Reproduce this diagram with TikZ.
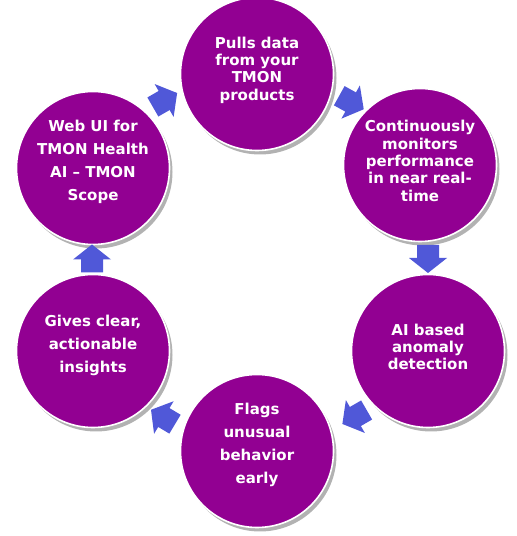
\documentclass[tikz,border=0pt]{standalone}
\usepackage{fontspec}
\setmainfont{DejaVu Sans}
\usepackage{tikz}
\usetikzlibrary{calc,shadows}
\definecolor{ring-purple}{HTML}{920092}
\definecolor{flowblue}{HTML}{5058D8}

\begin{document}
\begin{tikzpicture}[x=1pt, y=1pt,
  bubble/.style={circle, minimum size=153pt, inner sep=0pt, fill=ring-purple, draw=white, line width=1.6pt,
    drop shadow={shadow xshift=3pt, shadow yshift=-4pt, opacity=0.3, fill=black}},
  txt/.style={align=center, text=white, font=\fontsize{15}{17.3}\selectfont\bfseries},
  wide/.style={font=\fontsize{15}{23}\selectfont\bfseries},
  flow/.pic={\fill[flowblue] (-14,-11) -- (-1,-11) -- (-1,-19) -- (14,0) -- (-1,19) -- (-1,11) -- (-14,11) -- cycle;}
]
  \useasboundingbox (0,0) rectangle (517,536);
  \node[bubble] (pulls) at (257,462) {};
  \node[bubble] (monitor) at (420,371) {};
  \node[bubble] (anomaly) at (428,185) {};
  \node[bubble] (flags) at (257,85) {};
  \node[bubble] (insights) at (93,185) {};
  \node[bubble] (web) at (93,368) {};
  % texts
  \node[txt] (pullst) at ([yshift=4pt]pulls) {Pulls data\\from your\\TMON\\products};
  \node[txt] (monitort) at ([yshift=4pt]monitor) {Continuously\\monitors\\performance\\in near real-\\time};
  \node[txt] (anomalyt) at ([yshift=4pt]anomaly) {AI based\\anomaly\\detection};
  \node[txt, wide] (flagst) at ([yshift=6pt]flags) {Flags\\unusual\\behavior\\early};
  \node[txt, wide] (insightst) at ([yshift=6pt]insights) {Gives clear,\\actionable\\insights};
  \node[txt, wide] (webt) at ([yshift=6pt]web) {Web UI for\\TMON Health\\AI -- TMON\\Scope};
  % arrows
  \pic[rotate=30] at ($(web)!0.5!(pulls)+(-10,21)$) {flow};
  \pic[rotate=-29] at ($(pulls)!0.5!(monitor)+(13,17)$) {flow};
  \pic[rotate=-90] at ($(monitor)!0.5!(anomaly)+(4,-1)$) {flow};
  \pic[rotate=-150] at ($(anomaly)!0.5!(flags)+(12,-16)$) {flow};
  \pic[rotate=149] at ($(flags)!0.5!(insights)+(-12,-16)$) {flow};
  \pic[rotate=90] at ($(insights)!0.5!(web)+(-1,1)$) {flow};
\end{tikzpicture}
\end{document}
